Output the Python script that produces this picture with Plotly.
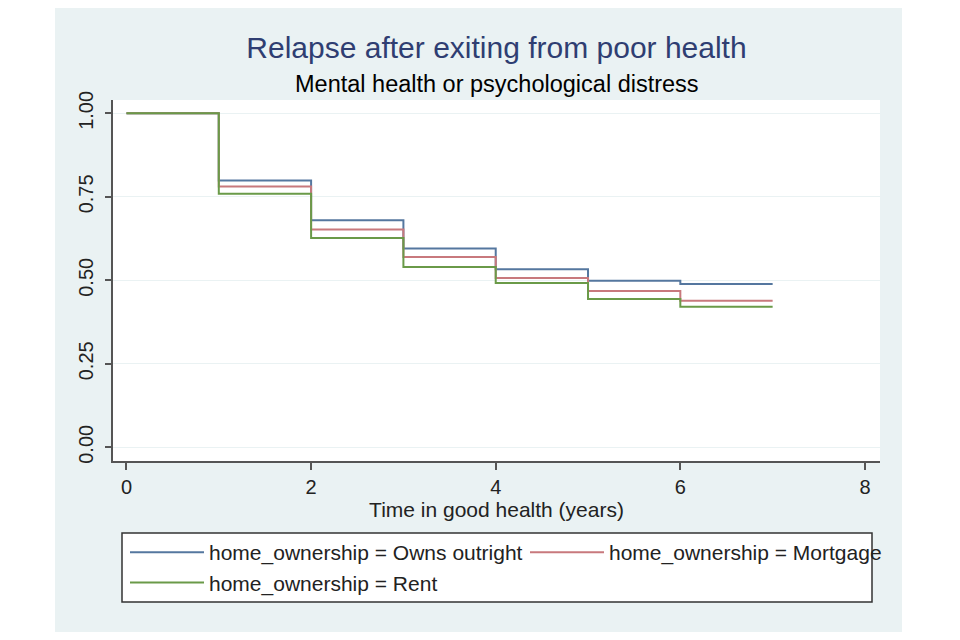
import plotly.graph_objects as go

# ---- data ----
times = [0, 1, 2, 3, 4, 5, 6, 7]
owns_outright = [1.00, 0.799, 0.680, 0.595, 0.533, 0.499, 0.489, 0.489]
mortgage = [1.00, 0.781, 0.652, 0.570, 0.507, 0.468, 0.439, 0.439]
rent = [1.00, 0.759, 0.627, 0.540, 0.492, 0.444, 0.421, 0.421]

series_names = [
    "home_ownership = Owns outright",
    "home_ownership = Mortgage",
    "home_ownership = Rent",
]
series_values = [owns_outright, mortgage, rent]
series_colors = ["#55779F", "#C8797D", "#6A9A48"]

x_ticks = [0, 2, 4, 6, 8]
y_ticks = [0, 0.25, 0.5, 0.75, 1.0]

title_text = "Relapse after exiting from poor health"
subtitle_text = "Mental health or psychological distress"
x_title = "Time in good health (years)"

FONT = "Liberation Sans, Arial, sans-serif"
OFF = 8  # page body margin
W, H = 960 - OFF, 640 - OFF
# plot area in page pixels: x 113..880, y 100..461
L, R, T, B = 113 - OFF, W - (880 - OFF), 100 - OFF, H - (461 - OFF)
PW, PH = W - L - R, H - T - B


def px_to_paper_x(px):
    return (px - OFF - L) / PW


def px_to_paper_y(py):
    return (H - B - (py - OFF)) / PH


fig = go.Figure()
for name, vals, col in zip(series_names, series_values, series_colors):
    fig.add_trace(go.Scatter(
        x=times, y=vals, mode="lines", name=name,
        line=dict(color=col, width=2, shape="hv"),
        hoverinfo="skip",
    ))

shapes = [
    # light blue-grey panel
    dict(type="rect", xref="paper", yref="paper",
         x0=px_to_paper_x(55), x1=px_to_paper_x(902),
         y0=px_to_paper_y(632), y1=px_to_paper_y(8),
         fillcolor="#EAF2F3", line=dict(width=0), layer="below"),
    # white plot region
    dict(type="rect", xref="paper", yref="paper", x0=0, x1=1, y0=0, y1=1,
         fillcolor="white", line=dict(width=0), layer="below"),
    # legend box
    dict(type="rect", xref="paper", yref="paper",
         x0=px_to_paper_x(122), x1=px_to_paper_x(872),
         y0=px_to_paper_y(602), y1=px_to_paper_y(533),
         fillcolor="white", line=dict(color="#333333", width=1.5), layer="above"),
]

fig.update_layout(
    width=W, height=H,
    margin=dict(l=L, r=R, t=T, b=B, autoexpand=False),
    paper_bgcolor="white",
    plot_bgcolor="white",
    font=dict(family=FONT, color="#222222"),
    shapes=shapes,
    title=dict(
        text=title_text, x=0.5, xref="paper", xanchor="center",
        y=1 - (47 - OFF) / H, yref="container", yanchor="middle",
        font=dict(family=FONT, size=30, color="#2F3E72"),
    ),
    annotations=[dict(
        text=subtitle_text, xref="paper", yref="paper",
        x=0.5, y=px_to_paper_y(84), xanchor="center", yanchor="middle",
        showarrow=False, font=dict(family=FONT, size=23.5, color="#000000"),
    )],
    showlegend=True,
    legend=dict(
        orientation="h",
        x=px_to_paper_x(925), xanchor="right",
        y=px_to_paper_y(532), yanchor="top",
        bgcolor="rgba(0,0,0,0)", borderwidth=0,
        font=dict(family=FONT, size=21, color="#222222"),
        entrywidth=311, entrywidthmode="pixels",
        itemwidth=74,
        traceorder="normal",
    ),
    xaxis=dict(
        range=[-0.146, 8.163],
        tickmode="array", tickvals=x_ticks,
        showgrid=False, zeroline=False,
        showline=True, linecolor="#555555", linewidth=1.5,
        ticks="outside", ticklen=7, tickwidth=1.5, tickcolor="#555555",
        tickfont=dict(family=FONT, size=20, color="#222222"),
        title=dict(text=x_title, standoff=4,
                   font=dict(family=FONT, size=21, color="#222222")),
    ),
    yaxis=dict(
        range=[-0.041, 1.040],
        tickmode="array", tickvals=y_ticks, tickformat=".2f",
        tickangle=-90,
        showgrid=True, gridcolor="#EAF2F3", gridwidth=1,
        zeroline=False,
        showline=True, linecolor="#555555", linewidth=1.5,
        ticks="outside", ticklen=6, tickwidth=1.5, tickcolor="#555555",
        ticklabelstandoff=4,
        tickfont=dict(family=FONT, size=20, color="#222222"),
    ),
)

fig.write_html("out.html", config={"displayModeBar": False})
